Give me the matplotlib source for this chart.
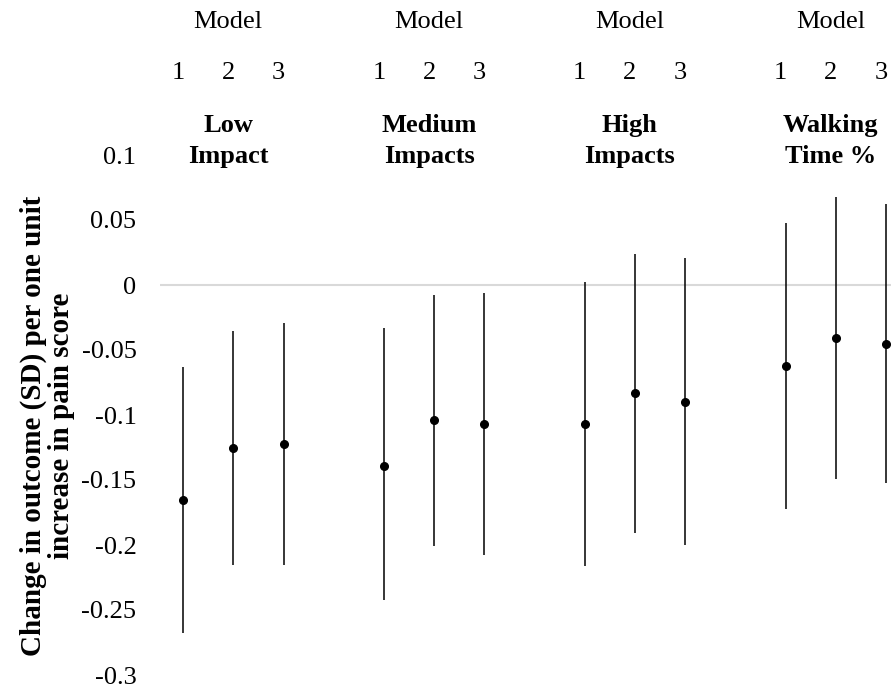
import numpy as np
import matplotlib
matplotlib.use("Agg")
import matplotlib.pyplot as plt

plt.rcParams['font.family'] = ['Liberation Serif', 'DejaVu Serif']
plt.rcParams['axes.unicode_minus'] = False

groups = ['Low\nImpact', 'Medium\nImpacts', 'High\nImpacts', 'Walking\nTime %']
models = ['1', '2', '3']

# estimates and 95% CI per group (rows) and model (columns)
estimate = np.array([[-0.165, -0.125, -0.122],
                     [-0.139, -0.104, -0.107],
                     [-0.107, -0.083, -0.090],
                     [-0.062, -0.041, -0.045]])
lower = np.array([[-0.268, -0.215, -0.215],
                  [-0.242, -0.201, -0.208],
                  [-0.216, -0.191, -0.200],
                  [-0.172, -0.149, -0.152]])
upper = np.array([[-0.063, -0.035, -0.029],
                  [-0.033, -0.008, -0.006],
                  [0.002, 0.024, 0.021],
                  [0.048, 0.068, 0.062]])

yticks = [0.1, 0.05, 0, -0.05, -0.1, -0.15, -0.2, -0.25, -0.3]
ytick_labels = ['0.1', '0.05', '0', '-0.05', '-0.1', '-0.15', '-0.2', '-0.25', '-0.3']

W, H = 891, 688
fig = plt.figure(figsize=(W / 100, H / 100), dpi=100)
ax = fig.add_axes([160 / W, 13 / H, 1 - 160 / W, (675 - 155) / H])

ng, nm = estimate.shape
xpos = np.array([[g * (nm + 1) + m for m in range(nm)] for g in range(ng)])

ax.axhline(0, color='#d9d9d9', lw=1.5, zorder=1)
ax.errorbar(xpos.ravel(), estimate.ravel(),
            yerr=[estimate.ravel() - lower.ravel(), upper.ravel() - estimate.ravel()],
            fmt='o', color='black', ms=5.5, elinewidth=1.1, capsize=0, zorder=3)

ax.set_xlim(-0.46, 14.1)
ax.set_ylim(-0.3, 0.1)
ax.set_yticks(yticks)
ax.set_yticklabels(ytick_labels, fontsize=19)
ax.tick_params(axis='y', length=0, pad=17)
ax.set_xticks([])
for s in ax.spines.values():
    s.set_visible(False)

# header text above the plot
trans = matplotlib.transforms.blended_transform_factory(ax.transData, fig.transFigure)
for g in range(ng):
    xc = xpos[g].mean() - 0.1
    fig.text(xc, 1 - 22 / H, 'Model', transform=trans, ha='center', va='center', fontsize=19)
    for m in range(nm):
        fig.text(xpos[g, m] - 0.1, 1 - 73 / H, models[m], transform=trans,
                 ha='center', va='center', fontsize=19)
    fig.text(xc, 1 - 141 / H, groups[g], transform=trans, ha='center', va='center',
             fontsize=19, fontweight='bold', linespacing=1.45)

fig.text(47 / W, 1 - 426 / H, 'Change in outcome (SD) per one unit\nincrease in pain score',
         rotation=90, ha='center', va='center', fontsize=21, fontweight='bold',
         multialignment='center', linespacing=1.05)

fig.savefig('out.png', dpi=100)
